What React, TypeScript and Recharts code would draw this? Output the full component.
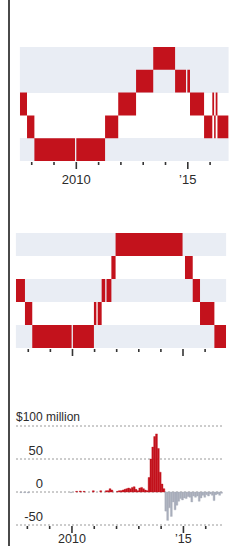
import React from 'react'
import {
  ComposedChart,
  BarChart,
  Area,
  Bar,
  Cell,
  XAxis,
  YAxis,
  CartesianGrid,
} from 'recharts'

const RED = '#c3121c'
const GRAY = '#a9aebb'
const SHADE = '#e9edf4'
const INK = '#2b2b2b'
const FONT = '"Liberation Sans", Arial, sans-serif'
const SEP = 0.06 // white hairline between two runs at the same level

// year ticks shared by all three panels
const tickYears = [2008, 2009, 2010, 2011, 2012, 2013, 2014, 2015, 2016]
const tickLabels = ['', '', '2010', '', '', '', '', '\u201915', '']

// levels: 5 = top band ... 1 = bottom band; each run starts at the date given
const upperStarts = [2007.47, 2007.79, 2008.12, 2010.0, 2011.29, 2011.88, 2012.68, 2013.45, 2014.43, 2014.98, 2015.1, 2015.73, 2016.1, 2016.18, 2016.25, 2016.33]
const upperLevels = [3, 2, 1, 1, 2, 3, 4, 5, 4, 4, 3, 2, 3, 2, 3, 2]
const upperEnd = 2016.83

const lowerStarts = [2007.44, 2007.85, 2008.18, 2010.02, 2010.97, 2011.14, 2011.32, 2011.54, 2011.76, 2011.95, 2014.98, 2015.09, 2015.44, 2015.77, 2016.42]
const lowerLevels: (number | null)[] = [3, 2, 1, 1, 2, 2, 3, 3, 4, 5, null, 4, 3, 2, 1]
const lowerEnd = 2016.95

// band edges; bands 5, 3 and 1 are shaded
const bandEdges = [0, 1, 2, 3, 4, 5]
const bandFill = [SHADE, 'transparent']

// monthly net flows, $ million (2007 starts in July)
const flows2007 = [0, 0, -1, 0, -1, 0]
const flows2008 = [-1.5, 0, 0, 0, 0, 0, 0, 0, 0, 0, 0, 0]
const flows2009 = [0, 0, 0, 0, 0, 0, 0, 0, 0, 0, 0, -1]
const flows2010 = [0, 0, 1, 0, 1.5, 0, 1, 0, 0, 0, 0, 2]
const flows2011 = [0, 0, 0, 2, 0, 0, 2, 2, 5, 3, 0, 0]
const flows2012 = [1, 2, 2, 3, 4, 5, 6, 5, 7, 8, 4, 2]
const flows2013 = [6, 7, 5, 3, 2, 22, 50, 68, 84, 88, 66, 30]
const flows2014 = [12, 5, -29, -43, -24, -37, -15, -27, -20, -14, -10, -12]
const flows2015 = [-9, -10, -7, -8, -15, -6, -8, -6, -14, -9, -5, -8]
const flows2016 = [-4, -6, -3, -5, -13, -4, -3, -5, -2]

const flowYears = [2007, 2008, 2009, 2010, 2011, 2012, 2013, 2014, 2015, 2016]
const flowsByYear = [flows2007, flows2008, flows2009, flows2010, flows2011, flows2012, flows2013, flows2014, flows2015, flows2016]

const flowTicks = [-50, 0, 50, 100]
const flowTickLabels = ['-50', '0', '50', '$100 million']

const flowData = flowYears.flatMap((yr, i) =>
  flowsByYear[i].map((v, j) => ({ t: yr + ((yr === 2007 ? 6 : 0) + j + 0.5) / 12, v }))
)

function stepRows(starts: number[], levels: (number | null)[], end: number) {
  const rows: { t: number; band: [number, number] | null }[] = []
  starts.forEach((start, i) => {
    const level = levels[i]
    if (level == null) return
    const next = i + 1 < starts.length ? starts[i + 1] : end
    const stop = levels[i + 1] === level ? next - SEP : next
    rows.push({ t: start, band: [level - 1, level] })
    rows.push({ t: stop, band: [level - 1, level] })
    rows.push({ t: stop, band: null })
  })
  return rows
}

function YearTick(props: any) {
  const { x, y, payload, showLabel, labelDy, fontSize } = props
  const label = tickLabels[tickYears.indexOf(payload.value)] || ''
  const major = label !== ''
  return (
    <g>
      <line x1={x} x2={x} y1={y + 1} y2={y + (major ? 8 : 4)} stroke="#333" strokeWidth={1.6} />
      {showLabel && major && (
        <text x={x} y={y + labelDy} textAnchor="middle" fontSize={fontSize} fontFamily={FONT} fill={INK}>
          {label}
        </text>
      )}
    </g>
  )
}

function FlowTick(props: any) {
  const { x, y, payload } = props
  const label = flowTickLabels[flowTicks.indexOf(payload.value)]
  if (payload.value === 100) {
    return (
      <text x={x} y={y - 5} textAnchor="start" fontSize={12} fontFamily={FONT} fill={INK}>
        {label}
      </text>
    )
  }
  return (
    <text x={x + 27} y={y - 4} textAnchor="end" fontSize={13} fontFamily={FONT} fill={INK}>
      {label}
    </text>
  )
}

function RankPanel({ starts, levels, end, domain, top, height, margin, axisHeight, showLabel }: any) {
  const data = stepRows(starts, levels, end)
  return (
    <div style={{ position: 'absolute', left: 0, top, width: 244, height }}>
      <ComposedChart width={244} height={height} data={data} margin={margin}>
        <CartesianGrid
          vertical={false}
          horizontalValues={bandEdges}
          horizontalFill={bandFill}
          stroke="transparent"
        />
        <XAxis
          dataKey="t"
          type="number"
          domain={domain}
          allowDataOverflow
          ticks={tickYears}
          interval={0}
          height={axisHeight}
          axisLine={false}
          tickLine={false}
          tickSize={0}
          tickMargin={0}
          tick={(p: any) => <YearTick {...p} showLabel={showLabel} labelDy={23} fontSize={13} />}
        />
        <YAxis hide width={0} type="number" domain={[0, 5]} ticks={bandEdges} allowDataOverflow />
        <Area
          type="linear"
          dataKey="band"
          fill={RED}
          fillOpacity={1}
          stroke="none"
          dot={false}
          activeDot={false}
          isAnimationActive={false}
        />
      </ComposedChart>
    </div>
  )
}

export default function App() {
  return (
    <div style={{ position: 'absolute', left: 0, top: 0, width: 244, height: 546, background: '#fff', overflow: 'hidden' }}>
      <div style={{ position: 'absolute', left: 8, top: 0, width: 1.6, height: 546, background: '#4a4a4a' }} />

      <RankPanel
        starts={upperStarts}
        levels={upperLevels}
        end={upperEnd}
        domain={[2007.47, 2016.83]}
        top={0}
        height={190}
        margin={{ top: 47, right: 15.4, bottom: 0, left: 19.9 }}
        axisHeight={29}
        showLabel
      />

      <RankPanel
        starts={lowerStarts}
        levels={lowerLevels}
        end={lowerEnd}
        domain={[2007.44, 2016.95]}
        top={190}
        height={180}
        margin={{ top: 43, right: 17.9, bottom: 0, left: 15.9 }}
        axisHeight={22}
        showLabel={false}
      />

      <div style={{ position: 'absolute', left: 0, top: 390, width: 244, height: 156 }}>
        <BarChart width={244} height={156} data={flowData} margin={{ top: 36, right: 20, bottom: 0, left: 15 }} barCategoryGap={0} barGap={0}>
          <CartesianGrid vertical={false} stroke="#9a9a9a" strokeDasharray="2 2" />
          <XAxis
            dataKey="t"
            type="number"
            domain={[2007.49, 2016.82]}
            allowDataOverflow
            ticks={tickYears}
            interval={0}
            height={21}
            axisLine={false}
            tickLine={false}
            tickSize={0}
            tickMargin={0}
            tick={(p: any) => <YearTick {...p} showLabel labelDy={17.5} fontSize={12.5} />}
          />
          <YAxis
            type="number"
            domain={[-50, 100]}
            ticks={flowTicks}
            interval={0}
            width={1}
            axisLine={false}
            tickLine={false}
            tickSize={0}
            tickMargin={0}
            tick={(p: any) => <FlowTick {...p} />}
          />
          <Bar dataKey="v" barSize={1.85} isAnimationActive={false}>
            {flowData.map((d, i) => (
              <Cell key={i} fill={d.v >= 0 ? RED : GRAY} stroke={d.v >= 0 ? RED : GRAY} strokeWidth={0.4} />
            ))}
          </Bar>
        </BarChart>
      </div>
    </div>
  )
}
